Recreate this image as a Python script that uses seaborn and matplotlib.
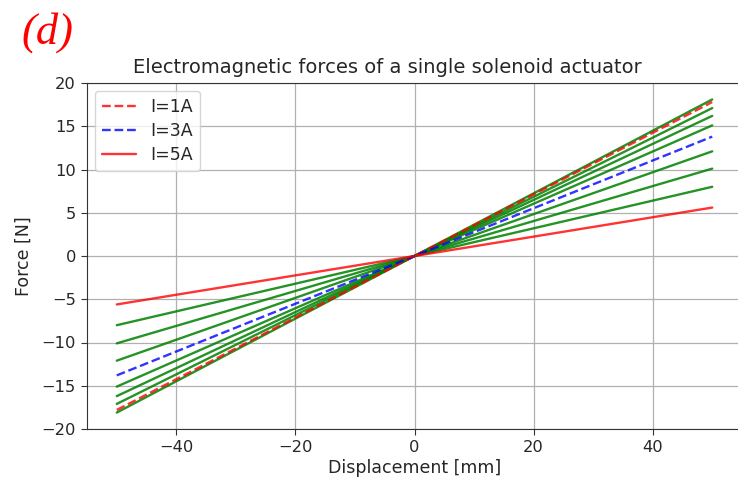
import matplotlib
matplotlib.use("Agg")
import matplotlib.pyplot as plt
import seaborn as sns
import numpy as np
import pandas as pd

sns.set_style("ticks")
plt.rcParams['font.family'] = ['DejaVu Sans']

displacement = [-50, 50]
green_force_at_50 = [18.1, 17.1, 16.2, 15.1, 12.1, 10.1, 8.0]
red_dashed_at_50 = 17.8
blue_dashed_at_50 = 13.8
red_solid_at_50 = 5.6
legend_labels = ["I=1A", "I=3A", "I=5A"]

fig = plt.figure(figsize=(7.38, 4.8), dpi=100)
ax = fig.add_axes([87/738, (480-429)/480, (742-87)/738, (429-83)/480])

for v in green_force_at_50:
    d = pd.DataFrame({"x": displacement, "y": [-v, v]})
    sns.lineplot(data=d, x="x", y="y", ax=ax, color="green", lw=1.7, alpha=0.85)

series = [(red_dashed_at_50, "red", "--", legend_labels[0]),
          (blue_dashed_at_50, "blue", "--", legend_labels[1]),
          (red_solid_at_50, "red", "-", legend_labels[2])]
for v, c, ls, lab in series:
    d = pd.DataFrame({"x": displacement, "y": [-v, v]})
    sns.lineplot(data=d, x="x", y="y", ax=ax, color=c, linestyle=ls, lw=1.7,
                 alpha=0.8, label=lab)

ax.set_ylim(-20, 20)
ax.set_xlim(-55, 55)
ax.set_yticks(np.arange(-20, 21, 5))
ax.set_xticks([-40, -20, 0, 20, 40])
ax.grid(True, color="#b0b0b0", lw=0.9)
for s in ax.spines.values():
    s.set_color("#333333")
ax.tick_params(labelsize=11.7, color="#333333", length=4.5)
ax.set_xlabel("Displacement [mm]", fontsize=12.5, labelpad=3)
ax.set_ylabel("Force [N]", fontsize=12.5, labelpad=6)
ax.set_title("Electromagnetic forces of a single solenoid actuator", fontsize=14,
             pad=7, x=(387-87)/(742-87))
ax.legend(loc="upper left", fontsize=12.5, framealpha=0.8, labelspacing=0.35,
          borderaxespad=0.45)

fig.text(21/738, 1 - 44/480, "(d)", color="red", fontsize=32, va="baseline",
         family="Liberation Serif", style="italic")

fig.savefig("out.png", dpi=100)
